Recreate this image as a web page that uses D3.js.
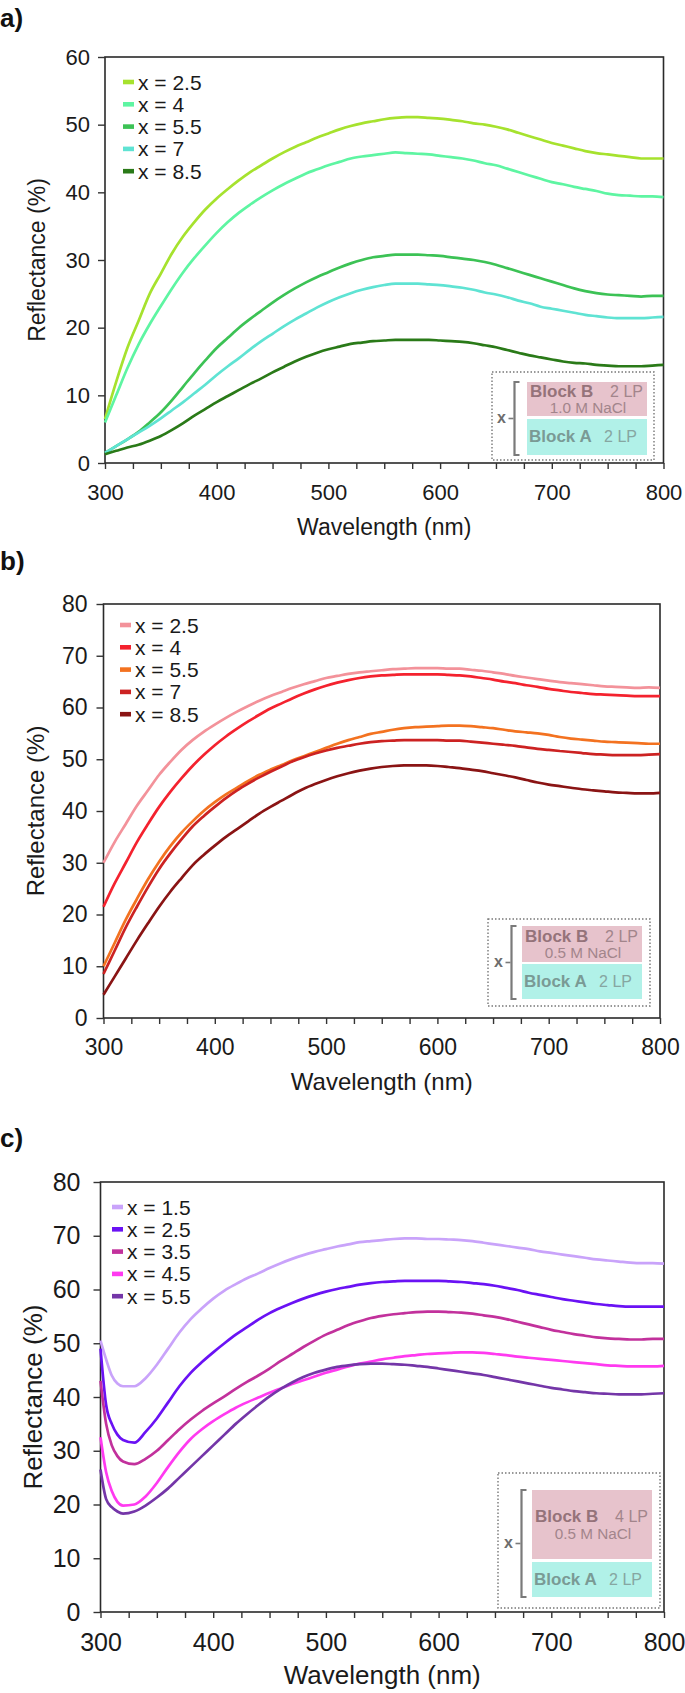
<!DOCTYPE html>
<html><head><meta charset="utf-8">
<script src="https://cdn.jsdelivr.net/npm/d3@7"></script>
<style>
html,body{margin:0;padding:0;background:#fff;}
svg{display:block;font-family:"Liberation Sans",Arial,Helvetica,sans-serif;}
</style></head>
<body><svg id="chart" width="685" height="1693"></svg>
<script>
// ---------- DATA ----------
const wavelengthAB = [300,310,320,330,340,350,360,370,380,390,400,410,420,430,440,450,460,470,480,490,500,510,520,530,540,550,560,570,580,590,600,610,620,630,640,650,660,670,680,690,700,710,720,730,740,750,760,770,780,790,800];
const wavelengthC = [300,305,310,315,320,330,340,350,360,370,380,390,400,410,420,430,440,450,460,470,480,490,500,510,520,530,540,550,560,570,580,590,600,610,620,630,640,650,660,670,680,690,700,710,720,730,740,750,760,770,780,790,800];

const xTicks = [300,400,500,600,700,800];
const yTicksA = [0,10,20,30,40,50,60];
const yTicksBC = [0,10,20,30,40,50,60,70,80];

// Panel a: Block B 2 LP, 1.0 M NaCl
const seriesNamesA = ["x = 2.5","x = 4","x = 5.5","x = 7","x = 8.5"];
const a_x25 = [6.5,12,17,21,25,28,31,33.5,35.6,37.5,39.1,40.5,41.8,43,44,45,45.9,46.7,47.4,48.1,48.7,49.3,49.8,50.2,50.5,50.8,51,51.1,51.1,51,50.9,50.7,50.5,50.2,50,49.7,49.3,48.8,48.3,47.8,47.3,46.9,46.5,46.1,45.8,45.6,45.4,45.2,45.0,45.0,45];
const a_x4 = [6,10,14,17.5,20.5,23.2,25.8,28.2,30.3,32.2,34,35.6,37,38.2,39.3,40.3,41.2,42,42.8,43.4,44,44.5,45,45.3,45.5,45.7,45.9,45.8,45.7,45.6,45.4,45.2,45,44.7,44.3,44,43.5,43,42.5,42,41.5,41.2,40.8,40.5,40.2,39.8,39.6,39.5,39.4,39.4,39.3];
const a_x55 = [1.5,2.5,3.5,4.6,6,7.5,9.3,11.3,13.3,15.2,17,18.5,20,21.3,22.5,23.7,24.8,25.8,26.7,27.5,28.2,28.9,29.5,30,30.4,30.6,30.8,30.8,30.8,30.7,30.6,30.4,30.2,30,29.7,29.3,28.8,28.3,27.8,27.3,26.8,26.3,25.8,25.4,25.1,24.9,24.8,24.7,24.6,24.7,24.7];
const a_x7 = [1.5,2.5,3.5,4.5,5.5,6.6,7.8,9,10.3,11.6,13,14.3,15.5,16.8,18,19.1,20.2,21.2,22.1,23,23.8,24.5,25.1,25.6,26,26.3,26.5,26.5,26.5,26.4,26.3,26.1,25.9,25.6,25.2,24.9,24.5,24,23.6,23.1,22.8,22.5,22.2,21.9,21.7,21.5,21.4,21.4,21.4,21.5,21.6];
const a_x85 = [1.3,1.8,2.3,2.7,3.3,4,4.9,5.9,7,8,9,9.9,10.8,11.7,12.5,13.4,14.2,15,15.7,16.3,16.8,17.2,17.6,17.8,18,18.1,18.2,18.2,18.2,18.2,18.1,18,17.9,17.7,17.4,17.1,16.7,16.3,15.9,15.6,15.3,15,14.8,14.7,14.5,14.4,14.3,14.3,14.3,14.4,14.5];
const colorsA = ["#a6e22e","#5ef5a2","#3cc255","#5fe3d3","#2a7a18"];

// Panel b: Block B 2 LP, 0.5 M NaCl
const seriesNamesB = ["x = 2.5","x = 4","x = 5.5","x = 7","x = 8.5"];
const b_x25 = [30,34,37.5,41,44,47,49.5,51.8,53.7,55.3,56.7,58,59.2,60.3,61.3,62.2,63,63.8,64.5,65.1,65.7,66.1,66.5,66.8,67,67.2,67.4,67.5,67.6,67.6,67.6,67.5,67.5,67.3,67.1,66.8,66.5,66.1,65.8,65.5,65.2,64.9,64.7,64.5,64.3,64.1,64,63.9,63.8,63.9,63.8];
const b_x4 = [21.5,26,30,34,37.5,40.8,43.7,46.3,48.7,50.8,52.7,54.4,55.9,57.3,58.6,59.8,60.8,61.8,62.7,63.5,64.2,64.8,65.3,65.7,66,66.2,66.3,66.4,66.4,66.4,66.4,66.3,66.2,66,65.7,65.4,65,64.7,64.3,64,63.6,63.3,63,62.8,62.6,62.5,62.4,62.3,62.2,62.2,62.2];
const b_x55 = [10,14.5,19,23,26.8,30.2,33.2,35.8,38,40,41.7,43.2,44.5,45.8,47,48,48.9,49.8,50.6,51.4,52.2,53,53.7,54.3,54.9,55.3,55.7,56,56.2,56.3,56.4,56.5,56.5,56.4,56.2,56,55.7,55.4,55.2,55,54.7,54.3,54,53.8,53.6,53.4,53.3,53.2,53.1,53,53];
const b_x7 = [8.5,13,17.5,21.5,25.3,28.8,31.8,34.5,37,39,40.8,42.5,44,45.3,46.5,47.6,48.6,49.6,50.4,51.1,51.7,52.2,52.6,53,53.3,53.5,53.6,53.7,53.7,53.7,53.7,53.6,53.6,53.4,53.2,53,52.8,52.6,52.3,52,51.8,51.6,51.4,51.2,51,50.9,50.8,50.8,50.8,50.9,51];
const b_x85 = [4.5,8,11.5,15,18.3,21.5,24.4,27,29.5,31.5,33.3,35,36.5,38,39.5,40.8,42,43.2,44.3,45.2,46,46.7,47.3,47.8,48.2,48.5,48.7,48.8,48.8,48.8,48.7,48.5,48.3,48,47.7,47.3,46.9,46.5,46,45.5,45.1,44.8,44.5,44.2,44,43.8,43.6,43.5,43.4,43.4,43.5];
const colorsB = ["#f3929a","#f4222e","#f37220","#cc2222","#8a1414"];

// Panel c: Block B 4 LP, 0.5 M NaCl
const seriesNamesC = ["x = 1.5","x = 2.5","x = 3.5","x = 4.5","x = 5.5"];
const c_x15 = [50.5,47,44,42.5,42,42,43.5,46,49,52,54.5,56.5,58.3,59.8,61,62.1,63,64,64.9,65.7,66.4,67,67.5,68,68.4,68.8,69,69.2,69.4,69.5,69.5,69.4,69.4,69.3,69.2,69,68.7,68.4,68.1,67.8,67.5,67.1,66.8,66.5,66.2,65.9,65.6,65.4,65.2,65,64.9,64.9,64.8];
const c_x25 = [49,38.5,35,33,32,31.5,33.5,36,39,42,44.5,46.5,48.3,50,51.6,53,54.4,55.6,56.6,57.5,58.3,59,59.6,60.1,60.5,60.9,61.2,61.4,61.5,61.6,61.6,61.6,61.6,61.5,61.4,61.2,61,60.7,60.3,59.9,59.4,59,58.6,58.2,57.9,57.6,57.3,57.1,56.9,56.8,56.8,56.8,56.8];
const c_x35 = [43,35,31,29,28,27.5,28.5,30,32,34,35.8,37.4,38.8,40.1,41.5,42.8,44,45.3,46.7,48,49.3,50.5,51.6,52.5,53.4,54.1,54.7,55.1,55.4,55.6,55.8,55.9,55.9,55.8,55.7,55.5,55.2,54.9,54.5,54,53.5,53,52.5,52.1,51.7,51.4,51.1,50.9,50.8,50.7,50.7,50.8,50.8];
const c_x45 = [32.5,26,22.5,20.5,19.8,20,21.5,24,27,29.8,32.2,34,35.5,36.8,38,39,39.9,40.8,41.6,42.4,43.1,43.8,44.5,45.1,45.7,46.2,46.6,47,47.3,47.6,47.8,48,48.1,48.2,48.3,48.3,48.2,48,47.8,47.5,47.3,47.1,46.9,46.7,46.5,46.3,46.1,45.9,45.8,45.7,45.7,45.7,45.8];
const c_x55 = [26.5,21,19.5,18.7,18.3,18.7,19.8,21.3,23,25,27,29,31,33,35,36.8,38.5,40.1,41.5,42.7,43.7,44.5,45.1,45.6,45.9,46.1,46.2,46.2,46.1,46,45.8,45.6,45.3,45,44.7,44.4,44.1,43.7,43.3,42.9,42.5,42.1,41.7,41.4,41.1,40.9,40.7,40.6,40.5,40.5,40.5,40.6,40.7];
const colorsC = ["#c9a3fa","#6a12f4","#c2319c","#ff3af0","#7436a8"];

// ---------- LAYOUT ----------
const panels = [
  {label:"a)", labelY:27, left:105, right:663.5, top:57, bottom:463, ymax:60, yTicks:yTicksA, fs:22, ypad:8,
   wl:wavelengthAB, series:[a_x25,a_x4,a_x55,a_x7,a_x85], names:seriesNamesA, colors:colorsA,
   legX:123, legY:82,
   inset:{box:[492,372,654,460], pink:[527,382,647,416], teal:[527,419,647,455], bx:514.5, top:"2 LP", salt:"1.0 M NaCl"}},
  {label:"b)", labelY:570, left:103.5, right:660, top:604, bottom:1018, ymax:80, yTicks:yTicksBC, fs:23, ypad:9,
   wl:wavelengthAB, series:[b_x25,b_x4,b_x55,b_x7,b_x85], names:seriesNamesB, colors:colorsB,
   legX:120, legY:625,
   inset:{box:[488,919,650,1006], pink:[522,926,642,962], teal:[522,964,642,999], bx:511.5, top:"2 LP", salt:"0.5 M NaCl"}},
  {label:"c)", labelY:1147, left:100.5, right:664, top:1182, bottom:1612, ymax:80, yTicks:yTicksBC, fs:25, ypad:13,
   wl:wavelengthC, series:[c_x15,c_x25,c_x35,c_x45,c_x55], names:seriesNamesC, colors:colorsC,
   legX:112, legY:1207,
   inset:{box:[498,1473,660,1608], pink:[532,1490,652,1559], teal:[532,1562,652,1597], bx:521.5, top:"4 LP", salt:"0.5 M NaCl"}}
];

const svg = d3.select("#chart");

panels.forEach(p => {
  const g = svg.append("g");
  const x = d3.scaleLinear().domain([300,800]).range([p.left,p.right]);
  const y = d3.scaleLinear().domain([0,p.ymax]).range([p.bottom,p.top]);

  g.append("text").attr("x",0).attr("y",p.labelY).attr("font-size",26).attr("font-weight","bold").attr("fill","#111").text(p.label);

  g.append("rect").attr("x",p.left).attr("y",p.top).attr("width",p.right-p.left).attr("height",p.bottom-p.top)
    .attr("fill","none").attr("stroke","#2a2a2a").attr("stroke-width",1.6);

  const xMinor = d3.range(300,801,25);
  const xa = g.append("g").attr("transform",`translate(0,${p.bottom})`)
    .call(d3.axisBottom(x).tickValues(xMinor).tickSize(6).tickFormat(""));
  xa.select(".domain").remove();
  xa.selectAll(".tick line").attr("stroke","#333").attr("stroke-width",1.4);
  const xl = g.append("g").attr("transform",`translate(0,${p.bottom})`)
    .call(d3.axisBottom(x).tickValues(xTicks).tickSize(0).tickPadding(21).tickFormat(d3.format("d")));
  xl.select(".domain").remove();
  xl.selectAll("text").attr("font-size",p.fs).attr("fill","#1a1a1a").attr("font-family","Liberation Sans, Arial, sans-serif");

  const ya = g.append("g").attr("transform",`translate(${p.left},0)`)
    .call(d3.axisLeft(y).tickValues(p.yTicks).tickSize(7).tickPadding(p.ypad).tickFormat(d3.format("d")));
  ya.select(".domain").remove();
  ya.selectAll(".tick line").attr("stroke","#333").attr("stroke-width",1.4);
  ya.selectAll("text").attr("font-size",p.fs).attr("fill","#1a1a1a").attr("font-family","Liberation Sans, Arial, sans-serif");

  g.append("text").attr("x",(p.left+p.right)/2).attr("y",p.bottom+72).attr("text-anchor","middle")
    .attr("font-size",p.fs+1).attr("fill","#1a1a1a").text("Wavelength (nm)");
  g.append("text").attr("transform",`translate(${p.left-68},${(p.top+p.bottom)/2}) rotate(-90)`)
    .attr("text-anchor","middle").attr("dominant-baseline","central")
    .attr("font-size",p.fs+1).attr("fill","#1a1a1a").text("Reflectance (%)");

  const I = p.inset;
  g.append("rect").attr("x",I.box[0]).attr("y",I.box[1]).attr("width",I.box[2]-I.box[0]).attr("height",I.box[3]-I.box[1])
    .attr("fill","#fff").attr("stroke","#777").attr("stroke-width",1.4).attr("stroke-dasharray","1.5,2");
  g.append("rect").attr("x",I.pink[0]).attr("y",I.pink[1]).attr("width",I.pink[2]-I.pink[0]).attr("height",I.pink[3]-I.pink[1]).attr("fill","#e7c3cc");
  g.append("rect").attr("x",I.teal[0]).attr("y",I.teal[1]).attr("width",I.teal[2]-I.teal[0]).attr("height",I.teal[3]-I.teal[1]).attr("fill","#b1f1e8");
  const bt = I.pink[1], bb = I.teal[3], bm = (bt+bb)/2;
  g.append("path").attr("d",`M${I.bx+5},${bt}H${I.bx}V${bb}H${I.bx+5}`).attr("fill","none").attr("stroke","#7a7a7a").attr("stroke-width",2.2);
  g.append("line").attr("x1",I.bx-6).attr("x2",I.bx-1).attr("y1",bm).attr("y2",bm).attr("stroke","#7a7a7a").attr("stroke-width",1.6);
  g.append("text").attr("x",I.bx-13).attr("y",bm+4.5).attr("text-anchor","middle").attr("font-size",16).attr("font-weight","bold").attr("fill","#6d6d6d").text("x");
  const pinkMid = (I.pink[1]+I.pink[3])/2;
  g.append("text").attr("x",I.pink[0]+3).attr("y",pinkMid-2.5).attr("font-size",17).attr("font-weight","bold").attr("fill","#95737a").text("Block B");
  g.append("text").attr("x",I.pink[2]-4).attr("y",pinkMid-2.5).attr("text-anchor","end").attr("font-size",16).attr("fill","#a2858b").text(I.top);
  g.append("text").attr("x",(I.pink[0]+I.pink[2])/2+1).attr("y",pinkMid+14).attr("text-anchor","middle").attr("font-size",15.3).attr("fill","#a2858b").text(I.salt);
  const tealMid = (I.teal[1]+I.teal[3])/2;
  g.append("text").attr("x",I.teal[0]+2).attr("y",tealMid+5).attr("font-size",17).attr("font-weight","bold").attr("fill","#7a9a95").text("Block A");
  g.append("text").attr("x",I.teal[2]-10).attr("y",tealMid+5).attr("text-anchor","end").attr("font-size",16).attr("fill","#86a6a1").text("2 LP");

  const line = d3.line().x((d,i)=>x(p.wl[i])).y(d=>y(d)).curve(d3.curveMonotoneX);
  p.series.forEach((s,k) => {
    g.append("path").datum(s).attr("d",line).attr("fill","none").attr("stroke",p.colors[k])
      .attr("stroke-width",2.7).attr("stroke-linejoin","round");
  });

  p.names.forEach((n,k) => {
    const ly = p.legY + k*22.3;
    g.append("rect").attr("x",p.legX).attr("y",ly-2.3).attr("width",11).attr("height",4.6).attr("fill",p.colors[k]);
    g.append("text").attr("x",p.legX+15).attr("y",ly+7.5).attr("font-size",21).attr("fill","#1a1a1a").text(n);
  });
});
</script></body></html>
